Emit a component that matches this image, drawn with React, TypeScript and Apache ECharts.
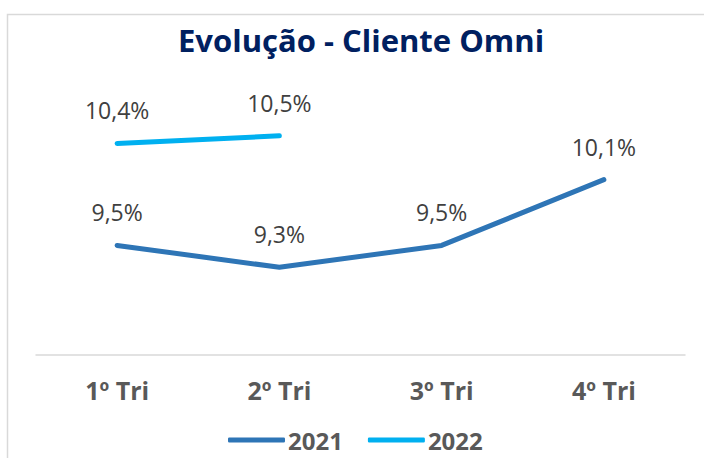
import React, { useEffect, useRef } from "react";
import * as echarts from "echarts";

const categories = ["1º Tri", "2º Tri", "3º Tri", "4º Tri"];
const values2021 = [9.5, 9.3, 9.5, 10.1];
const values2022: (number | null)[] = [10.43, 10.5, null, null];
const labels2022 = ["10,4%", "10,5%"];

const fmt = (v: number) => v.toFixed(1).replace(".", ",") + "%";

export default function App() {
  const ref = useRef<HTMLDivElement>(null);
  useEffect(() => {
    if (!ref.current) return;
    const chart = echarts.init(ref.current, null, { renderer: "svg" });
    const labelStyle = {
      show: true,
      position: "top" as const,
      distance: 21,
      fontSize: 23,
      color: "#404040",
      fontFamily: "Open Sans",
    };
    chart.setOption({
      animation: false,
      backgroundColor: "#ffffff",
      graphic: [
        {
          type: "rect",
          left: 5,
          top: 12,
          shape: { width: 760, height: 500 },
          style: { fill: "none", stroke: "#d9d9d9", lineWidth: 1.5 },
          silent: true,
        },
      ],
      title: {
        text: "Evolução - Cliente Omni",
        left: 173,
        top: 19,
        textStyle: {
          fontSize: 31,
          fontWeight: "bold",
          color: "#002060",
          fontFamily: "Open Sans",
        },
      },
      legend: {
        top: 423,
        left: 223,
        padding: 5,
        itemWidth: 57,
        itemHeight: 5,
        itemGap: 25,
        icon: "roundRect",
        textStyle: {
          fontSize: 24,
          fontWeight: "bold",
          color: "#595959",
          fontFamily: "Open Sans",
          padding: [0, 0, 0, -2],
        },
        data: ["2021", "2022"],
      },
      grid: { left: 36, right: 19, top: 81, bottom: 103 },
      xAxis: {
        type: "category",
        data: categories,
        boundaryGap: true,
        axisLine: { show: true, lineStyle: { color: "#d9d9d9", width: 1.5 } },
        axisTick: { show: false },
        axisLabel: {
          fontSize: 25,
          fontWeight: "bold",
          color: "#595959",
          margin: 22,
          fontFamily: "Open Sans",
        },
      },
      yAxis: {
        type: "value",
        min: 8.5,
        max: 11,
        show: false,
        splitLine: { show: false },
      },
      series: [
        {
          name: "2021",
          type: "line",
          data: values2021,
          showSymbol: true,
          symbol: "circle",
          symbolSize: 1,
          lineStyle: { color: "#2E75B6", width: 5, cap: "round", join: "round" },
          itemStyle: { color: "#2E75B6" },
          label: { ...labelStyle, formatter: (p: any) => fmt(p.value) },
        },
        {
          name: "2022",
          type: "line",
          data: values2022,
          showSymbol: true,
          symbol: "circle",
          symbolSize: 1,
          lineStyle: { color: "#00B0F0", width: 5, cap: "round", join: "round" },
          itemStyle: { color: "#00B0F0" },
          label: { ...labelStyle, formatter: (p: any) => labels2022[p.dataIndex] },
        },
      ],
    });
    return () => chart.dispose();
  }, []);
  return (
    <div
      ref={ref}
      style={{ position: "absolute", left: 0, top: 0, width: 704, height: 458 }}
    />
  );
}
